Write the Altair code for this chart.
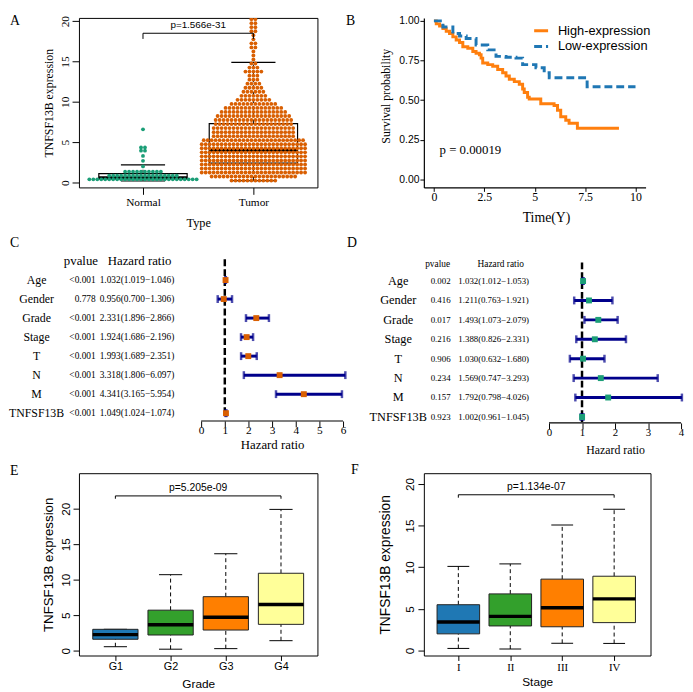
import json
import altair as alt
import pandas as pd

SERIF = "Liberation Serif"
SANS = "Liberation Sans"

# ---------------- Panel A data (beeswarm read as rows: level -> count) ----------------
types = ["Normal", "Tumor"]
normal_levels = [0.4, 0.85, 1.35, 2.0, 2.7, 3.3, 3.95, 4.35, 6.6]
normal_counts = [28, 18, 10, 1, 1, 1, 2, 2, 1]
tumor_levels = [0.25, 0.75, 1.25, 1.75, 2.25, 2.75, 3.25, 3.75, 4.25, 4.75,
                5.25, 5.75, 6.25, 6.75, 7.25, 7.75, 8.25, 8.75, 9.25, 9.75,
                10.25, 10.75, 11.25, 11.75, 12.25, 12.75, 13.25, 13.75, 14.25, 14.75,
                15.25, 15.75, 16.25, 16.75, 17.25, 17.75, 18.25, 18.75, 19.25, 19.75,
                20.25, 20.75]
tumor_counts = [12, 22, 27, 27, 27, 27, 27, 27, 27, 27,
                26, 21, 21, 21, 20, 20, 19, 17, 15, 12,
                9, 7, 6, 5, 4, 3, 3, 5, 3, 2,
                1, 1, 1, 2, 2, 1, 1, 2, 2, 2,
                2, 1]
a_lo = [0.2, 0.24]
a_q1 = [0.45, 2.4]
a_med = [0.6, 4.0]
a_q3 = [1.1, 7.3]
a_hi = [2.2, 14.9]
a_pval = "p=1.566e-31"

# ---------------- Panel B data (Kaplan-Meier steps) ----------------
surv_groups = ["High-expression", "Low-expression"]
high_t = [0, 0.115, 0.28, 0.445, 0.61, 0.774, 0.939, 1.104, 1.269, 1.433, 1.68, 1.928, 2.09,
          2.257, 2.34, 2.42, 2.67, 2.916, 3.163, 3.41, 3.575, 3.74, 3.987, 4.234, 4.4, 4.48,
          4.646, 4.728, 5.3, 5.96, 6.13, 6.29, 6.54, 6.705, 7.117, 9.18]
high_s = [1.0, 0.981, 0.967, 0.951, 0.934, 0.92, 0.899, 0.879, 0.864, 0.837, 0.827, 0.807, 0.796,
          0.786, 0.765, 0.735, 0.724, 0.714, 0.693, 0.673, 0.652, 0.632, 0.617, 0.601, 0.57, 0.549,
          0.519, 0.508, 0.477, 0.467, 0.436, 0.395, 0.374, 0.354, 0.323, 0.323]
low_t = [0, 0.445, 0.94, 1.27, 1.6, 2.09, 2.67, 3.08, 3.575, 4.07, 4.4, 5.06, 5.47, 5.72, 7.6, 10.0]
low_s = [1.0, 0.961, 0.92, 0.905, 0.889, 0.848, 0.817, 0.776, 0.77, 0.765, 0.724, 0.704, 0.673,
         0.642, 0.584, 0.584]
b_pval = "p = 0.00019"

# ---------------- Panels C / D data (Cox regression) ----------------
cox_vars = ["Age", "Gender", "Grade", "Stage", "T", "N", "M", "TNFSF13B"]
uni_p = ["<0.001", "0.778", "<0.001", "<0.001", "<0.001", "<0.001", "<0.001", "<0.001"]
uni_hr = [1.032, 0.956, 2.331, 1.924, 1.993, 3.318, 4.341, 1.049]
uni_lo = [1.019, 0.700, 1.896, 1.686, 1.689, 1.806, 3.165, 1.024]
uni_hi = [1.046, 1.306, 2.866, 2.196, 2.351, 6.097, 5.954, 1.074]
multi_p = ["0.002", "0.416", "0.017", "0.216", "0.906", "0.234", "0.157", "0.923"]
multi_hr = [1.032, 1.211, 1.493, 1.388, 1.030, 1.569, 1.792, 1.002]
multi_lo = [1.012, 0.763, 1.073, 0.826, 0.632, 0.747, 0.798, 0.961]
multi_hi = [1.053, 1.921, 2.079, 2.331, 1.680, 3.293, 4.026, 1.045]

# ---------------- Panels E / F data (box plots) ----------------
grades = ["G1", "G2", "G3", "G4"]
grade_lo = [0.55, 0.2, 0.28, 1.4]
grade_q1 = [1.6, 2.2, 2.9, 3.7]
grade_med = [2.25, 3.65, 4.7, 6.5]
grade_q3 = [3.0, 5.7, 7.6, 10.9]
grade_hi = [3.0, 10.7, 13.65, 19.9]
grade_pval = "p=5.205e-09"

stages = ["I", "II", "III", "IV"]
stage_lo = [0.25, 0.18, 0.87, 0.85]
stage_q1 = [2.0, 2.95, 2.85, 3.35]
stage_med = [3.43, 4.1, 5.13, 6.2]
stage_q3 = [5.5, 6.8, 8.57, 8.92]
stage_hi = [10.1, 10.4, 15.07, 16.96]
stage_pval = "p=1.134e-07"

BOX_COLORS = ["#1F78B4", "#33A02C", "#FF7F00", "#FFFF99"]
GREEN = "#1B9E77"
DORANGE = "#D95F02"
NAVY = "#00008B"
KM_ORANGE = "#FF7F0E"
KM_BLUE = "#1F77B4"


def panel_label(letter, dx, dy):
    return alt.Chart(pd.DataFrame({"t": [letter]})).mark_text(
        font=SERIF, fontSize=14, align="left", baseline="top", color="black"
    ).encode(text="t:N", x=alt.value(dx), y=alt.value(dy))


def cat_expr(cats):
    return json.dumps(cats) + "[datum.value - 1]"


# =============== Panel A ===============
A_W, A_H = 242, 172
a_sx = alt.Scale(domain=[0.42, 2.58], nice=False, zero=False)
a_sy = alt.Scale(domain=[-0.6, 20.4], nice=False, zero=False)
a_xaxis = alt.Axis(values=[1, 2], labelExpr=cat_expr(types), title="Type", domain=False,
                   tickSize=7, labelPadding=2, labelFont=SERIF, labelFontSize=11.5,
                   titleFont=SERIF, titleFontSize=12.5, titleY=36, titleBaseline="middle")
a_yaxis = alt.Axis(values=[0, 5, 10, 15, 20], title="TNFSF13B expression", domain=False,
                   tickSize=7, labelAngle=270, labelAlign="center", labelBaseline="bottom",
                   labelPadding=2, labelFont=SERIF, labelFontSize=11.5,
                   titleFont=SERIF, titleFontSize=12, titleAngle=270, titleX=-31, titleY=A_H / 2,
                   titleAlign="center", titleBaseline="middle")


def AX(f):
    return alt.X(f, type="quantitative", scale=a_sx, axis=a_xaxis)


def AY(f):
    return alt.Y(f, type="quantitative", scale=a_sy, axis=a_yaxis)


SW_STEP = 0.036
type_colors = [GREEN, DORANGE]
sw_x, sw_y, sw_c = [], [], []
for gi, (levels, counts) in enumerate([(normal_levels, normal_counts), (tumor_levels, tumor_counts)]):
    for lv, n in zip(levels, counts):
        for k in range(n):
            sw_x.append(gi + 1 + (k - (n - 1) / 2) * SW_STEP)
            sw_y.append(lv)
            sw_c.append(type_colors[gi])
swarm_df = pd.DataFrame({"x": sw_x, "y": sw_y, "col": sw_c})

a_box = pd.DataFrame({"pos": [1, 2], "lo": a_lo, "q1": a_q1, "med": a_med, "q3": a_q3, "hi": a_hi})
a_box["xl"] = a_box["pos"] - 0.4
a_box["xr"] = a_box["pos"] + 0.4
a_box["cl"] = a_box["pos"] - 0.2
a_box["cr"] = a_box["pos"] + 0.2

ab = alt.Chart(a_box)
a_layers = [
    ab.mark_rule(color="black", strokeWidth=1, strokeDash=[4, 3]).encode(x=AX("pos"), y=AY("q3"), y2="hi"),
    ab.mark_rule(color="black", strokeWidth=1, strokeDash=[4, 3]).encode(x=AX("pos"), y=AY("lo"), y2="q1"),
    ab.mark_rule(color="black", strokeWidth=1.2).encode(x=AX("cl"), x2="cr", y=AY("hi")),
    ab.mark_rule(color="black", strokeWidth=1.2).encode(x=AX("cl"), x2="cr", y=AY("lo")),
    ab.mark_rect(fill="transparent", stroke="black", strokeWidth=1.2).encode(x=AX("xl"), x2="xr", y=AY("q1"), y2="q3"),
    ab.mark_rule(color="black", strokeWidth=3).encode(x=AX("xl"), x2="xr", y=AY("med")),
    alt.Chart(swarm_df).mark_circle(size=15, opacity=1, clip=True).encode(
        x=AX("x"), y=AY("y"), color=alt.Color("col:N", scale=None)),
    alt.Chart(pd.DataFrame({"x": [1], "x2": [2], "y": [18.5]})).mark_rule(color="black", strokeWidth=1).encode(
        x=AX("x"), x2="x2", y=AY("y")),
    alt.Chart(pd.DataFrame({"x": [1, 2], "y": [17.8, 17.8], "y2": [18.5, 18.5]})).mark_rule(
        color="black", strokeWidth=1).encode(x=AX("x"), y=AY("y"), y2="y2"),
    alt.Chart(pd.DataFrame({"x": [1.5], "y": [19.5], "t": [a_pval]})).mark_text(
        font=SANS, fontSize=10, color="black", baseline="middle").encode(x=AX("x"), y=AY("y"), text="t:N"),
    panel_label("A", -70, -4),
]
pA = alt.layer(*a_layers).properties(width=A_W, height=A_H,
                                     view=alt.ViewBackground(stroke="black", strokeWidth=1))

# =============== Panel B ===============
B_W, B_H = 225, 172
b_sx = alt.Scale(domain=[-0.5, 10.5], nice=False, zero=False)
b_sy = alt.Scale(domain=[-0.05, 1.0185], nice=False, zero=False)
b_xaxis = alt.Axis(values=[0, 2.5, 5, 7.5, 10], labelExpr="'' + datum.value", title="Time(Y)",
                   tickSize=4, labelPadding=0, labelFont=SERIF, labelFontSize=12,
                   titleFont=SERIF, titleFontSize=14, titleX=124, titleY=31, titleBaseline="middle",
                   domainWidth=1.2)
b_yaxis = alt.Axis(values=[0, 0.25, 0.5, 0.75, 1.0], format=".2f", title="Survival probability",
                   tickSize=4, labelPadding=1, labelFont=SANS, labelFontSize=10.5,
                   titleFont=SERIF, titleFontSize=12, titleAngle=270, titleX=-39, titleY=79,
                   titleAlign="center", titleBaseline="middle", domainWidth=1.2)


def BX(f):
    return alt.X(f, type="quantitative", scale=b_sx, axis=b_xaxis)


def BY(f):
    return alt.Y(f, type="quantitative", scale=b_sy, axis=b_yaxis)


km_df = pd.DataFrame({
    "t": high_t + low_t,
    "s": high_s + low_s,
    "grp": [surv_groups[0]] * len(high_t) + [surv_groups[1]] * len(low_t),
})
km_legend = alt.Legend(orient="none", legendX=110, legendY=4, title=None, symbolType="stroke",
                       symbolSize=200, symbolStrokeWidth=3, labelFont=SANS, labelFontSize=13,
                       labelColor="black", labelOffset=8, padding=0, rowPadding=0)
b_lines = alt.Chart(km_df).mark_line(interpolate="step-after", strokeWidth=3).encode(
    x=BX("t"), y=BY("s"),
    color=alt.Color("grp:N", scale=alt.Scale(domain=surv_groups, range=[KM_ORANGE, KM_BLUE]), legend=km_legend),
    strokeDash=alt.StrokeDash("grp:N", scale=alt.Scale(domain=surv_groups, range=[[1, 0], [8, 4]]), legend=km_legend),
)
b_text = alt.Chart(pd.DataFrame({"t": [0.28], "s": [0.185], "lab": [b_pval]})).mark_text(
    font=SERIF, fontSize=13, align="left", baseline="middle", color="black").encode(
    x=BX("t"), y=BY("s"), text="lab:N")
pB = alt.layer(b_lines, b_text, panel_label("B", -79, -4)).properties(width=B_W, height=B_H)


# =============== Panels C / D (forest plots) ===============
def forest(pvals, hr, lo, hi, L):
    W, H = L["W"], L["H"]
    rows = list(range(len(cox_vars)))
    xdom = [-L["zero"] / L["pxu"], (W - L["zero"]) / L["pxu"]]
    ydom = [-L["row0"] / L["step"], (H - L["row0"]) / L["step"]]
    sx = alt.Scale(domain=xdom, nice=False, zero=False)
    sy = alt.Scale(domain=ydom, nice=False, zero=False, reverse=True)
    xaxis = alt.Axis(values=list(range(L["xmax"] + 1)), domain=False, tickSize=6, labelPadding=-2,
                     labelFont=SERIF, labelFontSize=L["tickfs"], title="Hazard ratio",
                     titleFont=SERIF, titleFontSize=L["titlefs"],
                     titleX=L["zero"] + L["xmax"] * L["pxu"] / 2, titleY=L["titleY"],
                     titleBaseline="middle", titleAlign="center")

    def X(f):
        return alt.X(f, type="quantitative", scale=sx, axis=xaxis)

    def Y(f):
        return alt.Y(f, type="quantitative", scale=sy, axis=None)

    df = pd.DataFrame({
        "var": cox_vars, "row": rows, "p": pvals, "hr": hr, "lo": lo, "hi": hi,
        "txt": [f"{h:.3f}({a:.3f}\u2212{b:.3f})" for h, a, b in zip(hr, lo, hi)],
    })
    caps = pd.DataFrame({"x": lo + hi, "row": rows + rows})
    head = pd.DataFrame({"row": [L["headrow"]], "p": ["pvalue"], "h": ["Hazard ratio"]})
    base = alt.Chart(df)
    layers = [
        alt.Chart(pd.DataFrame({"x": [1], "y": [L["ref1"]], "y2": [L["ref2"]]})).mark_rule(
            color="black", strokeWidth=2.5, strokeDash=[7, 3]).encode(x=X("x"), y=Y("y"), y2="y2"),
        alt.Chart(pd.DataFrame({"x": [0], "x2": [L["xmax"]]})).mark_rule(
            color="black", strokeWidth=1.2).encode(x=X("x"), x2="x2", y=alt.value(H)),
        base.mark_rule(color=NAVY, strokeWidth=3).encode(x=X("lo"), x2="hi", y=Y("row")),
        alt.Chart(caps).mark_tick(orient="vertical", color=NAVY, size=8, thickness=2.5).encode(
            x=X("x"), y=Y("row")),
        base.mark_square(size=36, color=L["pc"], opacity=1).encode(x=X("hr"), y=Y("row")),
        base.mark_text(font=SERIF, fontSize=L["labfs"], align="center", baseline="middle", color="black").encode(
            x=alt.value(L["labx"]), y=Y("row"), text="var:N"),
        base.mark_text(font=SERIF, fontSize=L["colfs"], align=L["palign"], baseline="middle", color="black").encode(
            x=alt.value(L["px"]), y=Y("row"), text="p:N"),
        base.mark_text(font=SERIF, fontSize=L["colfs"], align="left", baseline="middle", color="black").encode(
            x=alt.value(L["hx"]), y=Y("row"), text="txt:N"),
        alt.Chart(head).mark_text(font=SERIF, fontSize=L["headfs"], align="center", baseline="middle",
                                  color="black").encode(x=alt.value(L["hpx"]), y=Y("row"), text="p:N"),
        alt.Chart(head).mark_text(font=SERIF, fontSize=L["headfs"], align="center", baseline="middle",
                                  color="black").encode(x=alt.value(L["hhx"]), y=Y("row"), text="h:N"),
        panel_label(L["letter"], L["ldx"], L["ldy"]),
    ]
    return alt.layer(*layers).properties(width=W, height=H)


C_LAYOUT = dict(W=268, H=186, zero=124, pxu=24.0, xmax=6, row0=43, step=19.3, headrow=-1.0,
                ref1=-1.09, ref2=7.2, pc=DORANGE, labx=-43, labfs=12, px=17, palign="right", hx=21,
                hpx=2, hhx=61.5, colfs=9.5, headfs=13, tickfs=11.5, titlefs=13, titleY=24,
                letter="C", ldx=-70, ldy=-2)
D_LAYOUT = dict(W=261, H=188, zero=127, pxu=33.5, xmax=4, row0=44, step=19.7, headrow=-0.9,
                ref1=-0.96, ref2=7.26, pc=GREEN, labx=-26, labfs=12.5, px=17, palign="center", hx=35,
                hpx=14, hhx=78, colfs=9, headfs=9.5, tickfs=11, titlefs=12, titleY=27,
                letter="D", ldx=-78, ldy=-2)
pC = forest(uni_p, uni_hr, uni_lo, uni_hi, C_LAYOUT)
pD = forest(multi_p, multi_hr, multi_lo, multi_hi, D_LAYOUT)


# =============== Panels E / F (box plots) ===============
def box_panel(cats, lo, q1, med, q3, hi, pval, L):
    W, H = L["W"], L["H"]
    pos = list(range(1, len(cats) + 1))
    sx = alt.Scale(domain=L["xdom"], nice=False, zero=False)
    sy = alt.Scale(domain=L["ydom"], nice=False, zero=False)
    xaxis = alt.Axis(values=pos, labelExpr=cat_expr(cats), domain=False, tickSize=5,
                     labelPadding=L["xpad"], labelFont=L["xfont"], labelFontSize=11,
                     title=L["xtitle"], titleFont=SANS, titleFontSize=12, titleY=L["xtitleY"],
                     titleBaseline="middle")
    yaxis = alt.Axis(values=[0, 5, 10, 15, 20], domain=False, tickSize=6, labelAngle=270,
                     labelAlign="center", labelBaseline="bottom", labelPadding=1,
                     labelFont=SANS, labelFontSize=12, title="TNFSF13B expression",
                     titleFont=SANS, titleFontSize=L["ytfs"], titleAngle=270, titleX=L["ytx"],
                     titleY=H / 2, titleAlign="center", titleBaseline="middle")

    def X(f):
        return alt.X(f, type="quantitative", scale=sx, axis=xaxis)

    def Y(f):
        return alt.Y(f, type="quantitative", scale=sy, axis=yaxis)

    df = pd.DataFrame({"cat": cats, "pos": pos, "lo": lo, "q1": q1, "med": med, "q3": q3, "hi": hi,
                       "col": BOX_COLORS[:len(cats)]})
    df["xl"] = df["pos"] - 0.41
    df["xr"] = df["pos"] + 0.41
    df["cl"] = df["pos"] - 0.21
    df["cr"] = df["pos"] + 0.21
    base = alt.Chart(df)
    n = len(cats)
    layers = [
        base.mark_rule(color="black", strokeWidth=1, strokeDash=[4, 3]).encode(x=X("pos"), y=Y("q3"), y2="hi"),
        base.mark_rule(color="black", strokeWidth=1, strokeDash=[4, 3]).encode(x=X("pos"), y=Y("lo"), y2="q1"),
        base.mark_rule(color="black", strokeWidth=1).encode(x=X("cl"), x2="cr", y=Y("hi")),
        base.mark_rule(color="black", strokeWidth=1).encode(x=X("cl"), x2="cr", y=Y("lo")),
        base.mark_rect(stroke="#222222", strokeWidth=1, opacity=1).encode(
            x=X("xl"), x2="xr", y=Y("q1"), y2="q3", fill=alt.Fill("col:N", scale=None)),
        base.mark_rule(color="black", strokeWidth=3.5).encode(x=X("xl"), x2="xr", y=Y("med")),
        alt.Chart(pd.DataFrame({"x": [1], "x2": [n], "y": [L["by"]]})).mark_rule(
            color="black", strokeWidth=1).encode(x=X("x"), x2="x2", y=Y("y")),
        alt.Chart(pd.DataFrame({"x": [1, n], "y": [L["bdrop"]] * 2, "y2": [L["by"]] * 2})).mark_rule(
            color="black", strokeWidth=1).encode(x=X("x"), y=Y("y"), y2="y2"),
        alt.Chart(pd.DataFrame({"x": [(1 + n) / 2], "y": [L["py"]], "t": [pval]})).mark_text(
            font=SANS, fontSize=10.5, color="black", baseline="middle").encode(
            x=X("x"), y=Y("y"), text="t:N"),
        panel_label(L["letter"], L["ldx"], L["ldy"]),
    ]
    return alt.layer(*layers).properties(width=W, height=H,
                                         view=alt.ViewBackground(stroke="black", strokeWidth=1))


E_LAYOUT = dict(W=242, H=185, xdom=[0.34, 4.66], ydom=[-0.69, 25.0], xpad=0, xfont=SANS,
                xtitle="Grade", xtitleY=28, ytfs=13.5, ytx=-31, by=21.8, bdrop=21.4, py=22.9,
                letter="E", ldx=-70, ldy=-9)
F_LAYOUT = dict(W=230, H=185, xdom=[0.336, 4.70], ydom=[-0.6, 21.29], xpad=1, xfont=SERIF,
                xtitle="Stage", xtitleY=26, ytfs=14, ytx=-39, by=18.7, bdrop=18.35, py=19.6,
                letter="F", ldx=-74, ldy=-10)
pE = box_panel(grades, grade_lo, grade_q1, grade_med, grade_q3, grade_hi, grade_pval, E_LAYOUT)
pF = box_panel(stages, stage_lo, stage_q1, stage_med, stage_q3, stage_hi, stage_pval, F_LAYOUT)

chart = alt.concat(
    pA, pB, pC, pD, pE, pF,
    columns=2, spacing={"row": 51, "column": 82}, bounds="flush", align="each",
).resolve_scale(
    color="independent", strokeDash="independent", fill="independent"
).resolve_legend(
    color="independent", strokeDash="independent"
).properties(
    padding=0
).configure_view(
    stroke="transparent"
).configure_axis(
    grid=False, labelColor="black", tickColor="black", domainColor="black",
    titleColor="black", titleFontWeight="normal", labelFlush=False, labelOverlap=False,
)

chart.save("out.html", embed_options={"renderer": "svg", "actions": False})
